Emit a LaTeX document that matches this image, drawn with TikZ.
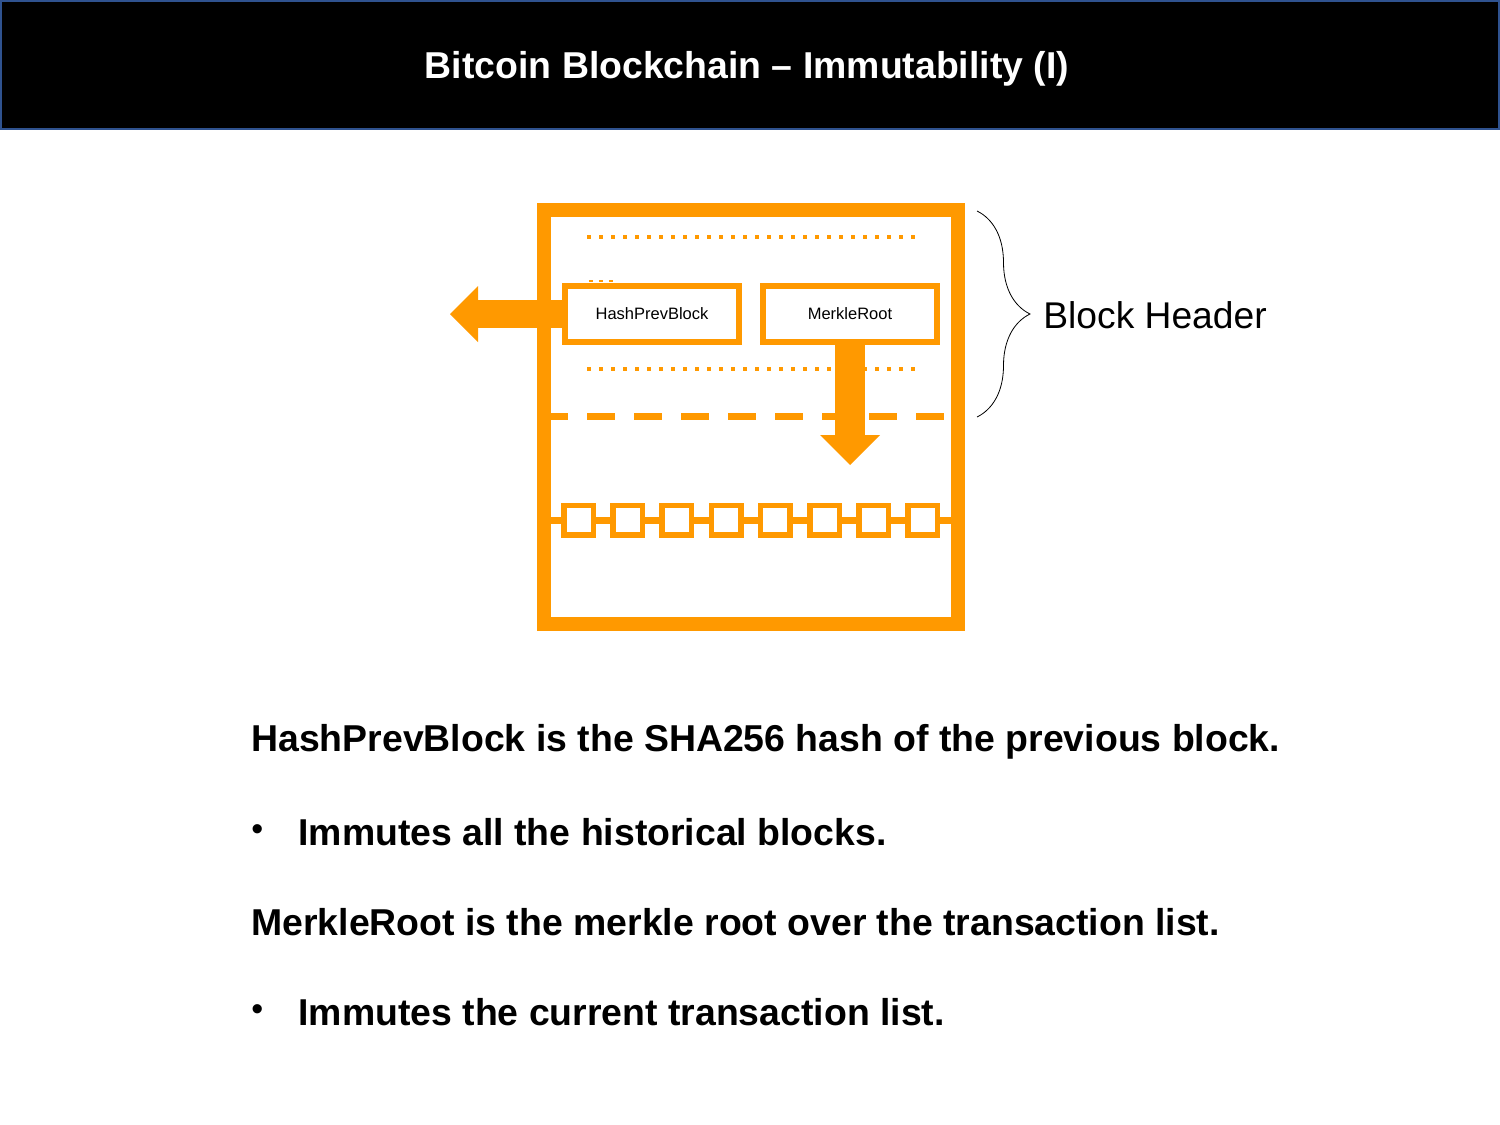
\documentclass[tikz,border=0pt]{standalone}
\usepackage{fontspec}
\setmainfont{Liberation Sans}
\usetikzlibrary{arrows.meta}
\usetikzlibrary{decorations.pathreplacing}
\definecolor{btcorange}{RGB}{255,153,0}
\definecolor{barblue}{RGB}{47,82,143}

\begin{document}
\begin{tikzpicture}[x=0.5pt,y=-0.5pt,
    titlebar/.style={
% The shape:
rectangle,
% The size:
minimum width=749pt,
minimum height=64pt,
% The border:
draw=barblue, line width=1pt, fill=black,
},
    blockframe/.style={
% The shape:
rectangle, inner sep=0pt,
% The size:
minimum width=207pt,
minimum height=207pt,
% The border:
draw=btcorange, line width=7pt,
},
    field/.style={
% The shape:
rectangle, inner sep=0pt, fill=white,
% The size:
minimum width=87pt,
minimum height=28pt,
% The border:
draw=btcorange, line width=3pt,
font=\fontsize{8.25}{10}\selectfont,
},
    tx/.style={
% The shape:
rectangle, inner sep=0pt, fill=white,
% The size:
minimum size=14.75pt,
% The border:
draw=btcorange, line width=2.75pt,
},
    dots/.style={btcorange, line width=2pt, dash pattern=on 2pt off 4pt},
    cut/.style={btcorange, line width=3.5pt, dash pattern=on 14pt off 9.5pt, dash phase=5.5pt},
    link/.style={btcorange, line width=3.5pt},
    fatarrow/.style={btcorange, line width=#1,
      -{Triangle[length=#1, width=2*#1, line width=0pt]}},
    txt/.style={anchor=west, inner sep=0pt, font=\fontsize{18.7}{22}\selectfont\bfseries},
    bullet/.style={anchor=west, inner sep=0pt, font=\fontsize{17}{20}\selectfont},
]
  \useasboundingbox (0,0) rectangle (1500,1125);

  \node[titlebar] (bar) at (750,65) {};
  \node[text=white, font=\fontsize{18.7}{22}\selectfont\bfseries]
    (title) at (747,69) {Bitcoin Blockchain -- Immutability (I)};

  % the block
  \node[blockframe] (frame) at (751,417) {};
  \draw[dots] (587,237) -- (915,237);
  \draw[dots] (587,369) -- (915,369);
  \draw[btcorange, line width=1pt, dash pattern=on 2pt off 3pt] (589,281) -- (613,281);
  \coordinate (cutL) at (551,416);
  \coordinate (cutR) at (951,416);
  \draw[cut] (cutL) -- (cutR);

  \node[field] (hash)   at (652,314) {HashPrevBlock};
  \node[field] (merkle) at (850,314) {MerkleRoot};

  % transactions
  \foreach \i in {1,...,8}
    \node[tx] (tx\i) at ({578.5+49.2*(\i-1)},520) {};
  \foreach \i [count=\j from 2] in {1,...,7}
    \draw[link] (tx\i) -- (tx\j);
  \draw[link] (tx1.west -| frame.west) -- (tx1);
  \draw[link] (tx8) -- (tx8.east -| frame.east);

  \coordinate (prevtip)   at (450,314);
  \coordinate (merkletip) at (850,465);
  \draw[fatarrow=14pt] (hash.west) -- (prevtip);
  \draw[fatarrow=15pt] (merkle.south) -- (merkletip);

  \draw[decorate, decoration={brace, amplitude=26.5pt}] (977,211) -- (977,417);
  \node[anchor=west, inner sep=0pt, font=\fontsize{18.6}{22}\selectfont]
    (hdr) at (1043,315) {Block Header};

  % the text
  \node[txt] (l1) at (251,742)  {HashPrevBlock is the SHA256 hash of the previous block.};
  \node[bullet] (b1) at (251,833)  {•};
  \node[txt] (l2) at (298,832)  {Immutes all the historical blocks.};
  \node[txt] (l3) at (251,922)  {MerkleRoot is the merkle root over the transaction list.};
  \node[bullet] (b2) at (251,1013) {•};
  \node[txt] (l4) at (298,1012) {Immutes the current transaction list.};

\end{tikzpicture}
\end{document}
